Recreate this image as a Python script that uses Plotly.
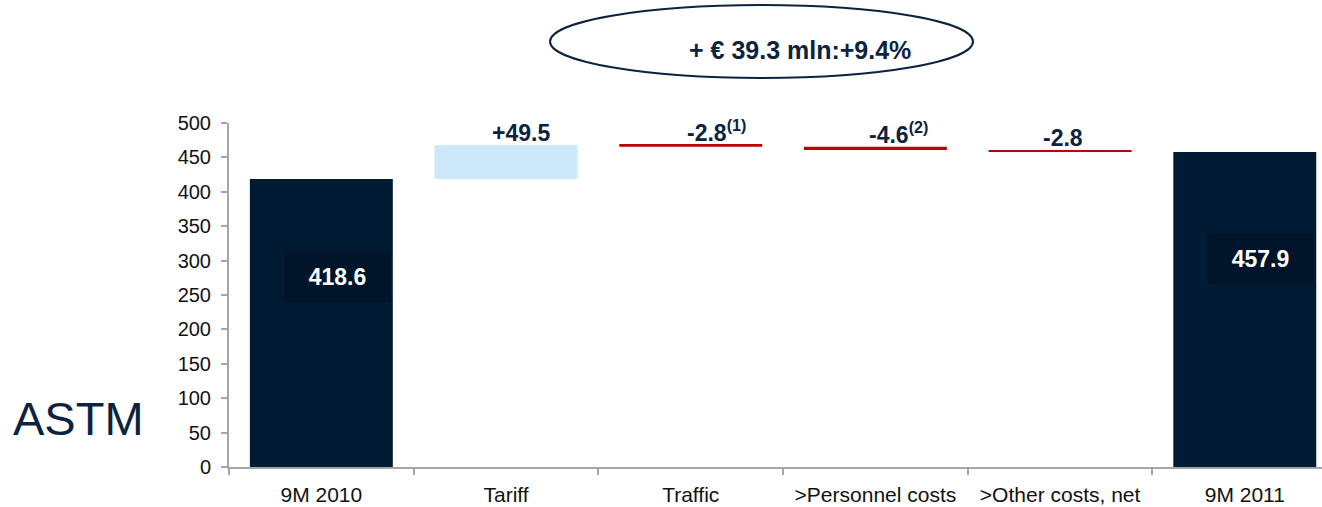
import plotly.graph_objects as go

# ASTM revenue bridge, 9M 2010 -> 9M 2011 (EUR mln)
categories = ["9M 2010", "Tariff", "Traffic", ">Personnel costs", ">Other costs, net", "9M 2011"]
measures = ["absolute", "relative", "relative", "relative", "relative", "total"]
values = [418.6, 49.5, -2.8, -4.6, -2.8, 457.9]
step_labels = ["", "+49.5", "-2.8<sup>(1)</sup>", "-4.6<sup>(2)</sup>", "-2.8", ""]
total_labels = ["418.6", "", "", "", "", "457.9"]
headline = "+ € 39.3 mln:+9.4%"
side_title = "ASTM"
y_ticks = list(range(0, 501, 50))

NAVY = "#011b35"
NAVY_BOX = "#00152a"
TEXT_NAVY = "#0c2340"
RED = "#c00000"
LIGHT_BLUE = "#cce9fb"
AXIS_GREY = "#a6a6a6"
FONT = "Liberation Sans, Arial, sans-serif"

fig = go.Figure(
    go.Waterfall(
        x=categories,
        measure=measures,
        y=values,
        width=[0.774] * len(categories),
        textinfo="none",
        connector=dict(visible=False),
        increasing=dict(marker=dict(color=LIGHT_BLUE, line=dict(width=0))),
        decreasing=dict(marker=dict(color=RED, line=dict(width=0))),
        totals=dict(marker=dict(color=NAVY, line=dict(width=0))),
        hoverinfo="skip",
        showlegend=False,
    )
)

annotations = []

# value labels above the step bars, placed at the top of each step
label_xshift = [0, 15, 26, 23, 3, 0]
level = 0.0
for i, (m, v) in enumerate(zip(measures, values)):
    if m == "absolute":
        level = v
        continue
    if m == "total":
        continue
    top = level + v if v > 0 else level
    level += v
    annotations.append(dict(
        x=i, y=top, xref="x", yref="y", text=f"<b>{step_labels[i]}</b>",
        showarrow=False, yanchor="bottom", xanchor="center",
        xshift=label_xshift[i], yshift=-3,
        font=dict(family=FONT, size=23, color=TEXT_NAVY),
    ))

# labels inside the opening and closing bars
for i, lab in enumerate(total_labels):
    if not lab:
        continue
    annotations.append(dict(
        x=i, y=values[i] * 0.66, xref="x", yref="y", text=f"<b>{lab}</b>",
        showarrow=False, xanchor="center", yanchor="middle", xshift=16,
        width=105, height=50, borderpad=0, bgcolor=NAVY_BOX,
        font=dict(family=FONT, size=23, color="white"),
    ))

# headline inside the ellipse
annotations.append(dict(
    x=0.5224, y=1.212, xref="paper", yref="paper", text=f"<b>{headline}</b>",
    showarrow=False, xanchor="center", yanchor="middle",
    font=dict(family=FONT, size=25, color=TEXT_NAVY),
))

# company name at the left
annotations.append(dict(
    x=-0.138, y=0.1424, xref="paper", yref="paper", text=side_title,
    showarrow=False, xanchor="center", yanchor="middle",
    font=dict(family=FONT, size=47, color=TEXT_NAVY),
))

fig.update_layout(
    width=1322, height=507,
    margin=dict(l=229, r=0, t=123, b=40),
    paper_bgcolor="white", plot_bgcolor="white",
    font=dict(family=FONT, color="#111111"),
    annotations=annotations,
    shapes=[dict(
        type="circle", xref="paper", yref="paper",
        x0=0.2937, x1=0.6807, y0=1.1308, y1=1.343,
        line=dict(color=TEXT_NAVY, width=2), fillcolor="rgba(0,0,0,0)",
        layer="above",
    )],
    xaxis=dict(
        type="category", range=[-0.5, 5.418],
        showline=True, linecolor=AXIS_GREY, linewidth=2,
        ticks="outside", tickson="boundaries", ticklen=6, tickcolor=AXIS_GREY, tickwidth=2,
        showgrid=False, zeroline=False, ticklabelstandoff=8,
        tickfont=dict(family=FONT, size=21, color="#111111"),
    ),
    yaxis=dict(
        range=[0, 500], tickvals=y_ticks,
        showline=True, linecolor=AXIS_GREY, linewidth=2,
        ticks="outside", ticklen=6, tickcolor=AXIS_GREY, tickwidth=2,
        showgrid=False, zeroline=False, ticklabelstandoff=6,
        tickfont=dict(family=FONT, size=20, color="#111111"),
    ),
)

fig.write_html("out.html")
